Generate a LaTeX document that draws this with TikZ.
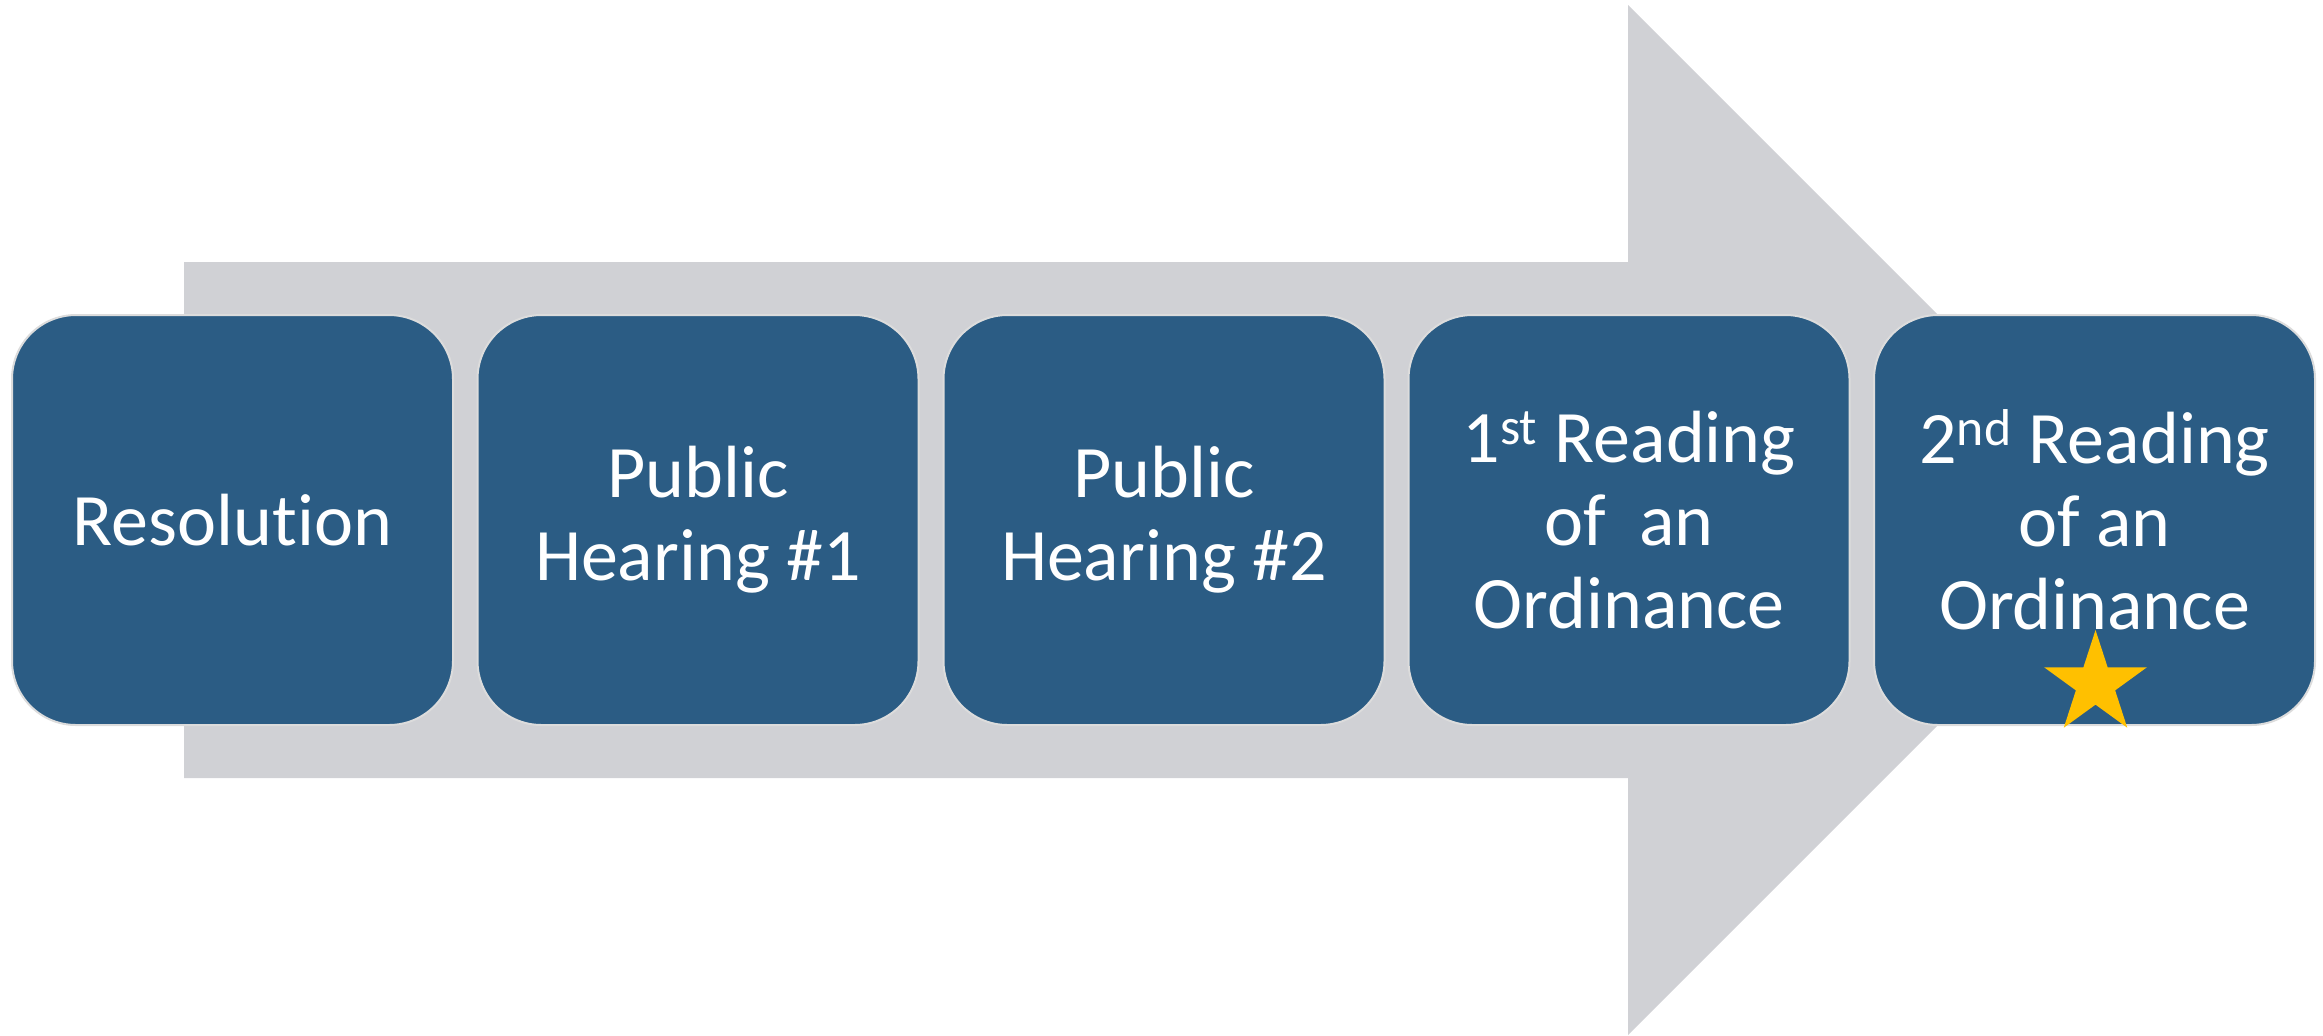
\documentclass[tikz,border=0pt]{standalone}
\usepackage{fontspec}
\setmainfont{Carlito}[Ligatures={NoCommon}]
\usetikzlibrary{shapes.geometric}
\definecolor{arrowgray}{HTML}{D0D1D5}
\definecolor{boxblue}{HTML}{2B5C84}
\definecolor{boxedge}{HTML}{DCDCDC}
\definecolor{stargold}{HTML}{FFC000}
\tikzset{
  stagebox/.style={rectangle, rounded corners=32pt, minimum width=220.5pt, minimum height=205pt,
    fill=boxblue, draw=boxedge, line width=1pt, text=white, align=center, inner sep=0pt,
    font=\fontsize{37pt}{41.5pt}\selectfont},
  goldstar/.style={star, star points=5, star point ratio=2.618, minimum size=54pt, inner sep=0pt,
    fill=stargold, draw=none}
}
\begin{document}
\begin{tikzpicture}[x=0.5pt,y=-0.5pt]
\useasboundingbox (0,0) rectangle (2323,1035);
% big arrow
\fill[arrowgray] (184,262) -- (1628,262) -- (1628,5) -- (2143,520) -- (1628,1035) -- (1628,778) -- (184,778) -- cycle;
% stages
\node[stagebox] (b1) at (232.5,520) {Resolution};
\node[stagebox] (b2) at (698,520) {Public\\Hearing \#1};
\node[stagebox] (b3) at (1164,520) {Public\\Hearing \#2};
\node[stagebox] (b4) at (1629,520) {1\textsuperscript{st} Reading\\of\ \ an\\Ordinance};
\node[stagebox] (b5) at (2094.5,520) {2\textsuperscript{nd} Reading\\of an\\Ordinance};
\node[goldstar] (s) at (2095.5,684) {};
\end{tikzpicture}
\end{document}
